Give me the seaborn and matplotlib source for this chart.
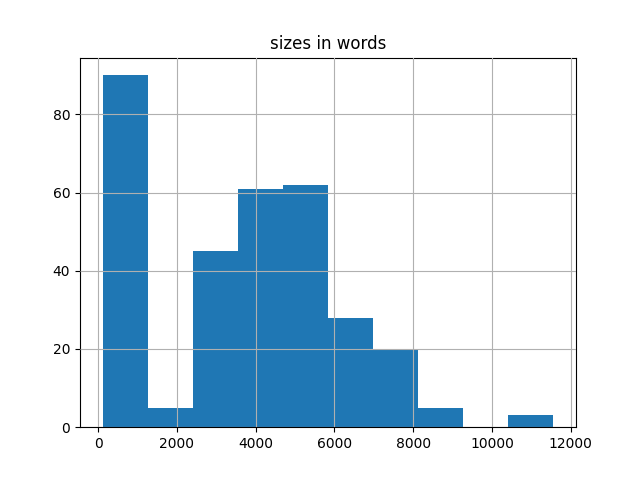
import numpy as np
import pandas as pd
import matplotlib
matplotlib.use('Agg')
import matplotlib.pyplot as plt
import seaborn as sns

# Histogram of document sizes (word counts), 10 equal bins
size_min = 110
size_max = 11560
counts = [90, 5, 45, 61, 62, 28, 20, 5, 0, 3]

edges = np.linspace(size_min, size_max, len(counts) + 1)
centers = (edges[:-1] + edges[1:]) / 2
df = pd.DataFrame({'words': centers, 'count': counts})

fig, ax = plt.subplots(figsize=(6.4, 4.8), dpi=100)
sns.histplot(data=df, x='words', weights='count', bins=list(edges), ax=ax,
             color='#1f77b4', alpha=1, linewidth=0)

ax.set_axisbelow(False)
ax.grid(True, color='#b0b0b0', linewidth=0.8)
ax.set_title('sizes in words')
ax.set_xlabel('')
ax.set_ylabel('')

plt.savefig('out.png', dpi=100)
